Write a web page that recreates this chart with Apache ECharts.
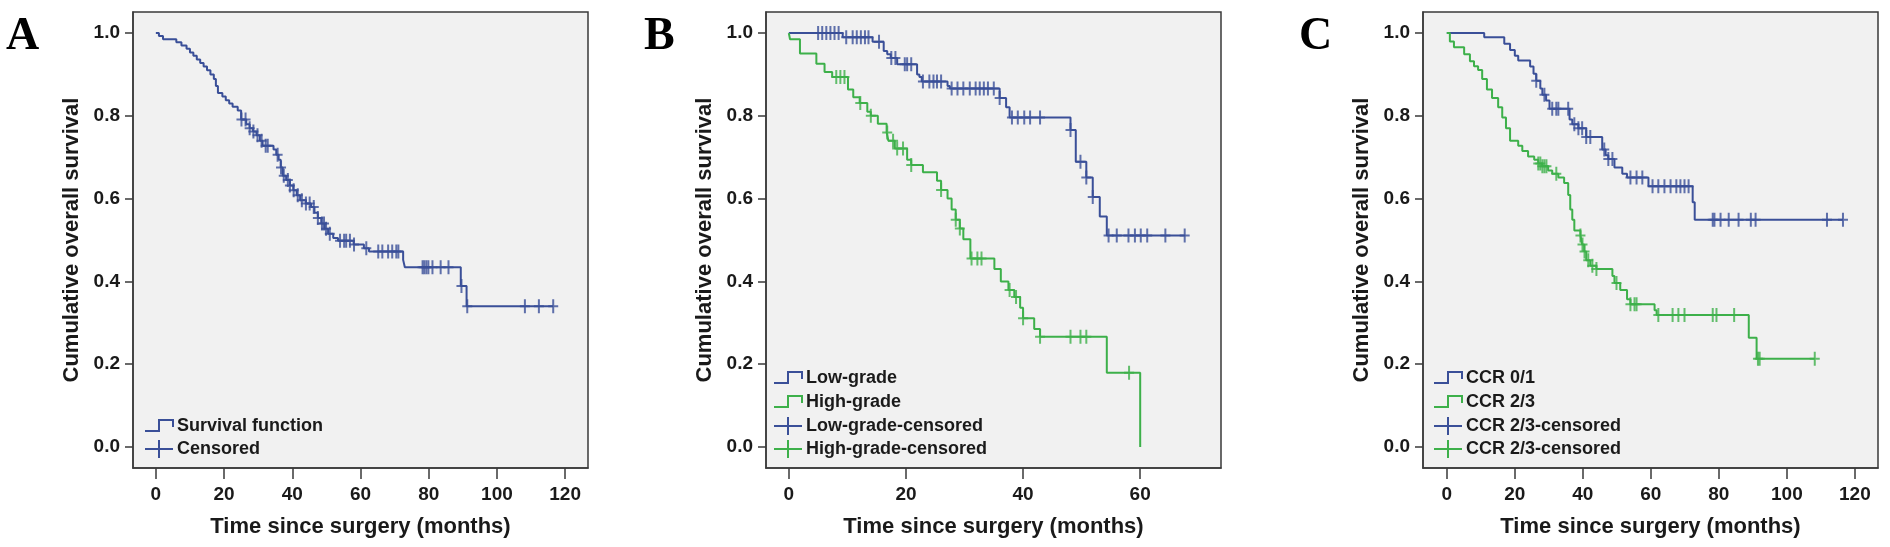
<!DOCTYPE html>
<html>
<head>
<meta charset="utf-8">
<script src="https://cdn.jsdelivr.net/npm/echarts@6/dist/echarts.min.js"></script>
<style>
  html, body { margin: 0; padding: 0; background: #fff; }
  #chart { width: 1890px; height: 547px; }
</style>
</head>
<body>
<div id="chart"></div>
<script>
// ── Kaplan-Meier curves, three panels ──
// step lists: [time in months, survival from that time on]

const xTicks = [0, 20, 40, 60, 80, 100, 120];
const xTicksB = [0, 20, 40, 60];
const yTicks = [0, 0.2, 0.4, 0.6, 0.8, 1.0];

// Panel A: all patients
const allSteps = [
  [0, 1.0], [0.9, 0.993], [2.1, 0.985], [6, 0.978], [7.5, 0.97], [9, 0.962], [10, 0.953],
  [11, 0.945], [12, 0.936], [13, 0.928], [14, 0.919], [15, 0.91], [16, 0.9], [17, 0.889],
  [17.6, 0.872], [18.2, 0.855], [19.5, 0.847], [20.5, 0.838], [21.5, 0.83], [22.5, 0.822],
  [24, 0.813], [25, 0.791], [26.5, 0.78], [27.5, 0.77], [28.5, 0.762], [29.5, 0.753],
  [30.5, 0.74], [31.3, 0.728], [34.5, 0.719], [35.3, 0.706], [36, 0.694], [36.6, 0.675],
  [37.2, 0.655], [38.2, 0.645], [39.3, 0.632], [40.3, 0.62], [41.3, 0.608], [42.3, 0.596],
  [44, 0.588], [45.5, 0.58], [46.5, 0.566], [47.5, 0.553], [48.5, 0.54], [49.5, 0.527],
  [50.5, 0.515], [52, 0.505], [53.4, 0.498], [58, 0.489], [61, 0.48], [62.5, 0.472],
  [72.5, 0.452], [73, 0.434], [89.4, 0.389], [91.1, 0.34], [116.5, 0.34]
];
const allCensored = [
  25.1, 26.3, 27.5, 28.6, 29.8, 31.0, 32.2, 32.8, 35.7, 36.7, 37.5, 38.7, 39.3, 40.4, 41.6,
  42.8, 44.0, 45.1, 46.3, 47.5, 48.7, 49.3, 49.9, 51.0, 54.0, 55.2, 55.8, 56.9, 58.1, 61.7,
  65.2, 66.4, 68.1, 69.3, 70.5, 71.1, 78.2, 78.7, 79.3, 79.9, 81.1, 83.5, 85.8, 89.6, 91.3,
  108.2, 112.3, 116.5
];

// Panel B: grade
const lowSteps = [
  [0, 1.0], [9.2, 0.99], [14.3, 0.979], [16.2, 0.957], [16.8, 0.949], [17.4, 0.94],
  [18.5, 0.925], [21.9, 0.9], [22.3, 0.894], [22.7, 0.883], [27.1, 0.872], [27.5, 0.866],
  [36, 0.843], [37.1, 0.821], [37.7, 0.796], [48.1, 0.766], [49, 0.689], [50.8, 0.651],
  [51.9, 0.604], [53.1, 0.557], [54.3, 0.511], [67.7, 0.511]
];
const lowCensored = [
  5.0, 5.7, 6.4, 7.1, 7.8, 8.5, 9.8, 10.9, 11.6, 12.3, 13.0, 13.6, 15.4, 17.5, 18.2, 19.8,
  20.2, 20.9, 22.9, 24.0, 24.7, 25.3, 26.0, 27.8, 28.8, 29.8, 30.9, 31.9, 32.6, 33.3, 34.0,
  35.0, 36.0, 38.1, 39.1, 40.2, 41.2, 42.9, 48.1, 49.8, 50.8, 51.9, 54.6, 56.0, 58.0, 59.1,
  60.1, 61.2, 64.3, 67.6
];
const highSteps = [
  [0, 1.0], [0.2, 0.985], [1.9, 0.951], [4.7, 0.926], [6.1, 0.906], [7.4, 0.894],
  [10.1, 0.864], [11, 0.845], [12.1, 0.831], [13.4, 0.81], [14, 0.8], [15.2, 0.781],
  [16.7, 0.76], [17, 0.74], [18.1, 0.721], [20.2, 0.694], [20.9, 0.681], [22.9, 0.664],
  [25.3, 0.643], [26, 0.621], [27.1, 0.6], [27.8, 0.574], [28.5, 0.549], [29.2, 0.528],
  [29.8, 0.502], [31, 0.455], [35.1, 0.43], [36.2, 0.4], [37.5, 0.379], [38.5, 0.362],
  [39.5, 0.336], [40, 0.311], [41.9, 0.285], [42.9, 0.266], [54.3, 0.179], [60, 0.0]
];
const highCensored = [
  8.1, 8.8, 9.5, 12.2, 14.0, 16.8, 17.8, 18.5, 19.5, 20.9, 26.0, 28.5, 29.2, 31.2, 32.2,
  32.9, 37.7, 38.8, 40.0, 42.9, 48.1, 49.8, 50.8, 58.1
];

// Panel C: CCR score
const ccr01Steps = [
  [0, 1.0], [11, 0.99], [16.9, 0.974], [18.6, 0.959], [20, 0.945], [21, 0.934],
  [24.5, 0.919], [25.5, 0.902], [26.3, 0.885], [27.5, 0.866], [28.1, 0.851], [29.2, 0.837],
  [30.2, 0.817], [36.1, 0.791], [36.9, 0.78], [38.7, 0.77], [41, 0.749], [45.7, 0.719],
  [46.7, 0.705], [47.5, 0.696], [49.3, 0.675], [51.6, 0.66], [53, 0.651], [59.3, 0.63],
  [72.3, 0.591], [72.9, 0.549], [116.5, 0.549]
];
const ccr01Censored = [
  26.3, 28.7, 31.0, 32.2, 32.8, 35.7, 37.5, 38.7, 39.8, 41.0, 42.2, 46.3, 47.5, 48.7, 54.0,
  55.8, 57.5, 60.5, 62.2, 64.0, 65.8, 67.5, 68.7, 69.9, 71.1, 78.2, 78.7, 80.5, 82.9, 85.8,
  89.4, 90.8, 111.8, 116.5
];
const ccr23Steps = [
  [0, 1.0], [0.9, 0.98], [2.1, 0.966], [5.1, 0.949], [6.8, 0.932], [8, 0.92], [9.2, 0.911],
  [10.4, 0.889], [11.8, 0.864], [13.3, 0.843], [15.1, 0.821], [16.3, 0.796], [17.4, 0.77],
  [18.6, 0.74], [21, 0.728], [22.2, 0.715], [23.9, 0.702], [25.7, 0.694], [26.9, 0.685],
  [28.1, 0.678], [29.8, 0.668], [31, 0.66], [32.8, 0.651], [34.5, 0.638], [35.7, 0.609],
  [36.3, 0.574], [36.9, 0.549], [37.5, 0.523], [39.3, 0.511], [39.8, 0.489], [40.4, 0.472],
  [41, 0.451], [42.2, 0.438], [44, 0.43], [48.7, 0.413], [49.3, 0.396], [51, 0.379],
  [53, 0.357], [54, 0.345], [61.1, 0.33], [61.7, 0.319], [88.8, 0.264], [91.1, 0.213],
  [108.2, 0.213]
];
const ccr23Censored = [
  26.9, 27.5, 28.1, 28.7, 29.3, 32.2, 39.3, 39.9, 40.5, 41.6, 42.8, 44.0, 49.9, 54.0, 55.2,
  55.8, 62.2, 66.4, 68.1, 69.9, 78.2, 79.3, 84.5, 91.5, 92.0, 108.2
];

const BLUE = '#3a4f98';
const GREEN = '#3db04a';
const FONT = '"Liberation Sans", Arial, sans-serif';
const PLUS = 'path://M4,0H6V6H10V8H6V14H4V8H0V6H4Z';

// survival value in force at time t (where the censor tick sits)
function survAt(steps, t) {
  let s = steps[0][1];
  for (const p of steps) { if (p[0] <= t) s = p[1]; }
  return s;
}

const panels = [
  { letter: 'A', left: 133, xMin: -6.7, xMax: 126.7, ticks: xTicks },
  { letter: 'B', left: 766, xMin: -3.9, xMax: 73.8, ticks: xTicksB },
  { letter: 'C', left: 1423, xMin: -7, xMax: 126.8, ticks: xTicks },
];

const grids = [], xAxes = [], yAxes = [], series = [], graphics = [];

panels.forEach((p, i) => {
  grids.push({
    left: p.left, top: 12, width: 455, height: 456, show: true,
    backgroundColor: '#f1f1f1', borderColor: '#3a3a3a', borderWidth: 1.5,
  });
  xAxes.push({
    type: 'value', gridIndex: i, min: p.xMin, max: p.xMax,
    name: 'Time since surgery (months)', nameLocation: 'middle', nameGap: 48,
    nameTextStyle: { fontFamily: FONT, fontWeight: 'bold', fontSize: 22, color: '#1a1a1a' },
    axisLine: { show: true, onZero: false, lineStyle: { color: '#3a3a3a', width: 1.5 } },
    axisTick: { show: true, length: 11, customValues: p.ticks, lineStyle: { color: '#3a3a3a', width: 1.5 } },
    axisLabel: { customValues: p.ticks, margin: 17, fontFamily: FONT, fontWeight: 'bold', fontSize: 19, color: '#1a1a1a' },
    splitLine: { show: false },
  });
  yAxes.push({
    type: 'value', gridIndex: i, min: -0.051, max: 1.051,
    name: 'Cumulative overall survival', nameLocation: 'middle', nameGap: 50,
    nameTextStyle: { fontFamily: FONT, fontWeight: 'bold', fontSize: 22, color: '#1a1a1a' },
    axisLine: { show: true, onZero: false, lineStyle: { color: '#3a3a3a', width: 1.5 } },
    axisTick: { show: true, length: 8, customValues: yTicks, lineStyle: { color: '#3a3a3a', width: 1.5 } },
    axisLabel: {
      customValues: yTicks, margin: 13, fontFamily: FONT, fontWeight: 'bold', fontSize: 19, color: '#1a1a1a',
      formatter: v => v.toFixed(1),
    },
    splitLine: { show: false },
  });
  graphics.push({
    type: 'text', left: p.left - 126 + (i === 1 ? -1 : 0) + (i === 2 ? 10 : 0), top: 14,
    style: { text: p.letter, font: 'bold 46px "Liberation Serif", "Times New Roman", serif', fill: '#000' },
  });
});
// letter positions
graphics[0].left = 6; graphics[1].left = 644; graphics[2].left = 1299;

function curve(name, steps, color, gi) {
  series.push({
    name, type: 'line', step: 'end', xAxisIndex: gi, yAxisIndex: gi,
    data: steps, showSymbol: false, lineStyle: { color, width: 2 }, z: 3,
  });
}
function censor(name, times, steps, color, gi) {
  series.push({
    name, type: 'scatter', xAxisIndex: gi, yAxisIndex: gi,
    data: times.map(t => [t, survAt(steps, t)]),
    symbol: PLUS, symbolSize: [10, 14], itemStyle: { color }, z: 4,
  });
}

curve('Survival function', allSteps, BLUE, 0);
censor('Censored', allCensored, allSteps, BLUE, 0);
curve('Low-grade', lowSteps, BLUE, 1);
curve('High-grade', highSteps, GREEN, 1);
censor('Low-grade-censored', lowCensored, lowSteps, BLUE, 1);
censor('High-grade-censored', highCensored, highSteps, GREEN, 1);
curve('CCR 0/1', ccr01Steps, BLUE, 2);
curve('CCR 2/3', ccr23Steps, GREEN, 2);
censor('CCR 2/3-censored', ccr01Censored, ccr01Steps, BLUE, 2);
censor('CCR 2/3-censored ', ccr23Censored, ccr23Steps, GREEN, 2);

// legends drawn by hand, SPSS style
function legendItem(x, y, kind, color, label) {
  if (kind === 'step') {
    graphics.push({ type: 'polyline', shape: { points: [[x, y + 5], [x + 14, y + 5], [x + 14, y - 6], [x + 28, y - 6], [x + 28, y + 1]] },
      style: { stroke: color, lineWidth: 2, fill: null } });
  } else {
    graphics.push({ type: 'line', shape: { x1: x, y1: y, x2: x + 28, y2: y }, style: { stroke: color, lineWidth: 2 } });
    graphics.push({ type: 'line', shape: { x1: x + 14, y1: y - 9, x2: x + 14, y2: y + 9 }, style: { stroke: color, lineWidth: 2 } });
  }
  graphics.push({ type: 'text', x: x + 32, y: y, style: { text: label, font: 'bold 18px ' + FONT, fill: '#1a1a1a', textVerticalAlign: 'middle' } });
}
legendItem(145, 426, 'step', BLUE, 'Survival function');
legendItem(145, 449, 'plus', BLUE, 'Censored');
legendItem(774, 378, 'step', BLUE, 'Low-grade');
legendItem(774, 402, 'step', GREEN, 'High-grade');
legendItem(774, 426, 'plus', BLUE, 'Low-grade-censored');
legendItem(774, 449, 'plus', GREEN, 'High-grade-censored');
legendItem(1434, 378, 'step', BLUE, 'CCR 0/1');
legendItem(1434, 402, 'step', GREEN, 'CCR 2/3');
legendItem(1434, 426, 'plus', BLUE, 'CCR 2/3-censored');
legendItem(1434, 449, 'plus', GREEN, 'CCR 2/3-censored');

const chart = echarts.init(document.getElementById('chart'), null, { renderer: 'canvas' });
chart.setOption({
  animation: false,
  backgroundColor: '#fff',
  grid: grids,
  xAxis: xAxes,
  yAxis: yAxes,
  series,
  graphic: graphics,
});
</script>
</body>
</html>
